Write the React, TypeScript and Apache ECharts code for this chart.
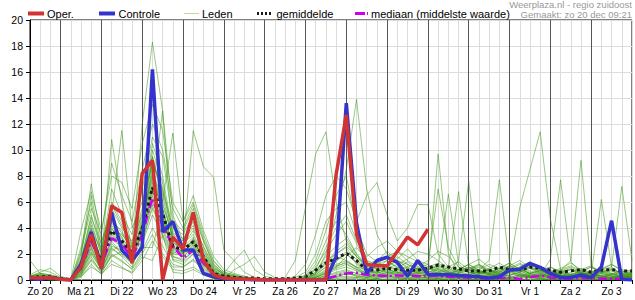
import React, { useEffect, useRef } from "react";
import * as echarts from "echarts";

// 6-hourly steps: index 0 = zo 20 dec 06:00 ... index 59 = ma 4 jan 00:00
const dayLabels = ["Zo 20", "Ma 21", "Di 22", "Wo 23", "Do 24", "Vr 25", "Za 26", "Zo 27", "Ma 28", "Di 29", "Wo 30", "Do 31", "Vr 1", "Za 2", "Zo 3"];

const oper = [0.2, 0.15, 0.2, 0.05, 0, 1.0, 3.5, 0.9, 5.7, 5.2, 1.3, 8.2, 9.2, 0, 3.3, 2.4, 5.2, 1.5, 0.4, 0.15, 0.1, 0.05, 0.05, 0, 0, 0, 0, 0, 0, 0, 8.1, 12.7, 3.5, 1.2, 1.1, 1.1, 2.2, 3.3, 2.7, 3.9];

const controle = [0.1, 0.05, 0.2, 0.05, 0, 1.2, 3.7, 0.9, 5.2, 2.3, 1.5, 2.5, 16.2, 3.7, 4.5, 2.3, 2.3, 0.5, 0.25, 0.1, 0.05, 0.05, 0, 0, 0, 0, 0, 0, 0, 0, 1.8, 13.6, 4.4, 0.5, 1.5, 1.75, 1.35, 0.3, 1.5, 0.45, 0.4, 0.4, 0.35, 0.3, 0.25, 0.15, 0.25, 0.77, 0.82, 1.28, 0.98, 0.5, 0.2, 0.2, 0.38, 0.18, 1.0, 4.56, 0.05, 0];

const gemiddelde = [0.2, 0.25, 0.25, 0.1, 0.05, 1.1, 3.3, 1.4, 3.8, 3.0, 2.1, 4.0, 7.1, 5.1, 2.6, 2.3, 2.95, 1.8, 0.5, 0.3, 0.2, 0.15, 0.15, 0.1, 0.1, 0.1, 0.15, 0.25, 0.77, 1.3, 1.67, 2.05, 1.5, 0.77, 0.77, 0.9, 0.8, 0.75, 0.75, 0.9, 1.15, 1.0, 0.85, 0.7, 0.7, 0.7, 1.0, 0.8, 0.78, 1.0, 0.9, 0.77, 0.6, 0.7, 0.8, 0.6, 0.77, 0.8, 0.7, 0.7];

const mediaan = [0.1, 0.15, 0.15, 0.05, 0, 0.9, 3.0, 1.2, 3.2, 2.8, 1.7, 3.5, 6.3, 4.2, 2.6, 1.7, 2.3, 1.3, 0.4, 0.1, 0.05, 0, 0, 0, 0, 0, 0, 0, 0, 0.1, 0.3, 0.5, 0.55, 0.4, 0.35, 0.3, 0.35, 0.3, 0.3, 0.3, 0.3, 0.25, 0.2, 0.2, 0.15, 0.1, 0.15, 0.2, 0.1, 0.2, 0.35, 0.2, 0.1, 0.1, 0.15, 0.15, 0.1, 0.1, 0.1, 0.1];

const lid01 = [0.2,0.3,0.2,0,0, 0.8,3.5,1.0,4.2,3.0,1.5,4.5,8.0,5.2,2.5,2.0,3.1,1.5,0.5, 0.2,0.1,0,0,0,0,0,0.1, 0.3,0.8,1.5,2.0,2.5,1.2,0.6,0.5,0.8,0.6,0.5,0.7, 0.8,1.2,0.6,0.4,0.3,0.5,0.8,0.4,0.3,0.9,0.6,0.4,0.2,0.3,0.5,0.3,0.2,0.4,0.3,0.2,0.3];
const lid02 = [0.1,0.2,0.1,0,0, 1.5,5.0,2.2,6.0,4.5,2.8,5.5,10.5,8.0,3.5,3.0,4.5,2.5,1.0, 0.4,0.2,0.1,0,0,0,0,0, 0,0.2,0.5,1.0,1.8,2.5,1.5,0.8,0.6,0.9,1.4,0.8, 0.5,0.3,0.2,0.6,1.0,0.7,0.4,0.2,0.1,0.3,0.5,0.8,0.4,0.2,0.1,0.2,0.6,0.9,0.5,0.3,0.2];
const lid03 = [0.3,0.5,0.4,0.1,0, 0.5,2.0,0.8,2.5,1.8,1.0,3.0,5.5,3.8,1.8,1.5,2.2,1.0,0.3, 0.1,0,0,0,0,0,0,0, 0,0,0.2,0.4,0.6,0.3,0.2,0.4,0.3,0.2,0.1,0.2, 0.1,0.2,0.4,0.3,0.1,0,0.2,0.5,0.8,0.4,0.2,0.1,0.2,0.3,0.2,0.1,0,0.1,0.2,0.1,0];
const lid04 = [0.2,0.1,0.1,0,0, 1.2,4.0,1.5,10.8,6.0,2.5,4.0,9.5,6.5,3.0,2.8,3.5,2.0,0.8, 0.3,0.2,0.1,0,0,0,0,0, 0.1,0.5,1.2,1.8,1.5,1.0,0.8,1.2,1.5,0.9,0.6,0.4, 0.3,0.6,1.0,1.4,0.8,0.5,0.3,0.6,1.1,0.7,0.4,0.3,0.5,0.4,0.2,0.6,1.0,0.5,0.3,0.4,0.6];
const lid05 = [0.1,0.1,0,0,0, 0.3,1.5,0.6,1.8,2.2,1.2,2.5,2.5,5.5,1.5,1.2,2.0,1.2,0.4, 0.1,0,0,0,0,0,0,0, 0,0,0,0.2,0.5,0.4,0.2,0.1,0.3,0.5,0.4,0.2, 0.2,0.1,0,0.1,0.3,0.2,0.1,0,0.2,0.4,0.3,0.1,0,0.1,0.3,0.5,0.3,0.1,0,0.1,0.2];
const lid06 = [0.4,0.8,0.6,0.2,0, 2.0,7.4,3.0,5.0,11.5,4.0,6.0,9.0,7.0,4.0,3.5,5.0,3.0,1.2, 0.5,0.3,0.2,0.1,0,0,0,0.2, 0.6,2.0,4.5,5.5,6.0,3.5,1.5,1.2,1.8,2.2,1.5,1.0, 1.5,2.2,1.8,1.0,0.6,0.8,1.2,0.9,0.6,1.0,1.4,0.8,0.5,0.7,1.0,0.6,0.4,0.8,1.2,0.7,0.5];
const lid07 = [0.1,0.2,0.3,0.1,0, 0.7,2.8,1.2,3.0,2.0,1.8,3.5,6.5,4.5,2.2,1.8,2.5,1.5,0.6, 0.2,0.1,0,0,0,0,0,0, 0,0.1,0.3,0.6,0.8,0.5,0.3,0.2,0.4,0.3,0.2,0.3, 0.4,0.2,0.1,0.2,0.3,0.1,0.2,0.4,0.2,0.1,0.3,0.2,0.1,0.2,0.4,0.2,0.1,0.2,0.1,0.2,0.3];
const lid08 = [0.2,0.2,0.1,0,0, 1.0,3.2,1.8,3.5,2.5,2.0,12.0,18.3,13.0,5.0,3.0,4.0,2.2,0.9, 0.4,0.2,0.1,0,0,0,0,0, 0,0.3,0.8,1.2,1.5,0.9,0.5,0.6,0.4,0.8,1.0,0.6, 0.9,0.5,0.3,0.2,0.4,0.7,0.5,0.3,0.6,0.9,0.5,0.3,0.2,0.1,0.3,0.5,0.3,0.2,0.4,0.3,0.2];
const lid09 = [0.1,0.1,0,0,0, 0.4,1.8,0.5,2.0,1.5,0.8,2.0,3.5,2.0,1.0,1.0,1.5,0.8,0.2, 0,0,0,0,0,0,0,0, 0,0,0.1,0.2,0.3,0.2,0.1,0,0.1,0.2,0.1,0, 0.1,0,0.1,0.2,0.1,0,0,0.1,0.2,0.1,0,0,0.1,0.2,0.1,0,0.1,0.2,0.1,0,0];
const lid10 = [0.2,0.4,0.3,0.1,0, 1.8,6.5,2.5,5.5,4.0,3.0,5.0,9.5,6.0,11.3,4.5,6.0,3.5,1.5, 0.6,0.4,0.2,0.1,0,0,0,0, 0.2,1.0,2.2,3.5,4.5,2.8,1.2,0.8,1.0,1.5,1.2,0.9, 1.2,7.0,2.5,1.0,0.8,0.5,0.9,1.3,0.8,0.6,1.0,0.7,0.4,0.6,0.8,0.5,0.3,0.6,0.9,0.5,0.4];
const lid11 = [0.3,0.2,0.2,0.1,0, 0.6,2.5,0.7,2.2,2.8,1.5,3.8,7.0,5.0,2.0,2.5,3.0,1.8,0.5, 0.1,0,0,0,0,0,0,0, 0,0.2,0.6,1.0,1.4,1.0,0.5,0.3,0.6,0.4,0.3,0.5, 0.6,0.9,0.5,0.3,0.6,0.4,0.2,0.5,0.7,0.3,0.2,0.4,0.6,0.3,0.1,0.3,0.5,0.2,0.1,0.3,0.2];
const lid12 = [0.1,0.1,0.1,0,0, 1.4,4.5,1.9,4.8,3.2,2.2,4.2,8.5,6.0,3.2,2.6,11.5,8.7,7.9, 2.3,1.5,0.6,0.2,0.1,0,0,0, 0.1,0.4,1.0,1.5,2.0,1.4,0.8,0.6,0.9,1.2,0.8,0.5, 0.4,0.8,0.6,1.5,7.6,1.2,0.5,0.3,0.6,0.9,0.5,0.3,0.6,0.4,0.2,0.4,0.7,0.5,0.3,0.2,0.3];
const lid13 = [0,0.1,0,0,0, 0.2,1.2,0.4,1.5,1.0,0.5,1.5,3.0,1.8,0.8,0.7,1.0,0.5,0.1, 0,0,0,0,0,0,0,0, 0,0,0,0.1,0.2,0.1,0,0.1,0.2,0.1,0,0.1, 0.2,0.1,0,0.1,0.2,0.1,0,0,0.1,0.3,0.2,0.1,0,0.1,0.2,0.1,0,0,0.1,0.2,0.1];
const lid14 = [0.2,0.3,0.1,0,0, 1.1,3.8,1.4,3.9,3.5,2.5,4.8,10.0,7.5,3.0,2.0,3.2,1.8,0.7, 0.3,0.1,0,0,0,0,0.2,1.5, 5.6,9.7,11.4,6.0,3.0,1.8,1.2,0.9,1.5,1.0,0.6,0.8, 0.5,0.9,6.6,1.2,0.6,0.4,0.8,0.5,0.3,0.6,0.9,0.5,0.3,0.5,0.8,0.4,0.2,0.5,0.7,0.4,0.3];
const lid15 = [0.1,0.2,0.2,0,0, 0.9,3.0,1.5,4.5,3.8,2.0,4.0,7.5,5.5,2.5,2.2,2.8,1.6,0.6, 0.2,0.1,0,0,0,0,0,0, 0.2,0.6,1.4,2.2,2.8,1.8,0.9,0.7,1.1,0.8,0.6,0.9, 0.7,0.5,0.8,6.8,1.0,0.6,0.4,0.7,1.0,0.5,0.3,0.6,0.8,0.4,0.2,0.4,0.6,0.3,0.2,0.4,0.5];
const lid16 = [0.2,0.1,0.1,0,0, 2.5,6.0,2.0,7.0,5.0,3.5,7.0,11.0,9.5,4.5,3.8,5.5,3.0,1.2, 0.5,0.3,0.1,0,0,0,0,0, 0,0.5,2.0,5.0,8.5,13.9,7.0,3.5,2.0,1.5,1.0,1.2, 0.8,1.0,0.6,0.5,0.8,1.2,0.7,0.4,0.6,0.9,1.2,0.8,0.5,0.3,0.6,0.9,0.5,0.3,0.5,0.7,0.4];
const lid17 = [0.3,0.6,0.9,0.3,0, 0.5,2.2,1.0,2.8,2.0,1.4,2.8,5.0,3.5,1.8,1.6,2.2,1.2,0.4, 0.1,0,0,0,0,0,0,0, 0,0.1,0.4,0.8,1.0,0.7,0.4,0.3,0.5,0.7,0.5,0.3, 0.3,0.5,0.3,0.2,0.5,0.8,1.5,7.7,1.2,0.5,0.3,0.2,0.4,0.6,0.3,0.2,0.4,0.3,0.2,0.3,0.2];
const lid18 = [0.1,0.1,0,0,0, 1.3,3.6,2.5,4.0,2.5,1.8,3.8,6.0,4.2,2.8,2.5,3.3,2.0,0.8, 0.3,0.2,0.1,0,0,0,0,0, 0.3,1.2,3.0,4.5,3.5,2.0,1.2,1.5,2.2,1.5,0.9,0.7, 1.0,0.6,0.4,0.8,1.2,0.7,0.5,0.9,1.3,0.8,0.5,0.7,1.0,0.6,0.4,0.8,1.1,0.6,0.4,0.6,0.8];
const lid19 = [0.2,0.2,0.1,0,0, 0.8,2.6,1.1,3.3,3.0,2.0,4.3,8.8,4.8,2.3,2.0,2.6,1.4,0.5, 0.2,0.1,0,0,0,0,0,0, 0,0.3,0.7,1.1,1.3,0.8,0.5,0.4,0.7,0.5,0.4,0.6, 0.5,0.3,0.6,0.4,0.2,0.5,0.8,0.6,0.9,5.6,8.5,11.4,4.7,0.8,0.4,0.6,0.3,0.2,0.5,0.3,0.2];
const lid20 = [0.2,0.4,0.2,0,0, 1.6,4.8,2.8,5.8,4.2,2.6,5.2,9.2,6.8,3.6,3.2,4.2,2.6,1.1, 0.4,0.3,0.2,0.1,0,0,0,0, 0.1,0.6,1.8,2.6,3.2,2.0,1.0,1.4,1.8,1.2,1.6,2.2, 2.0,1.5,0.9,0.6,0.8,1.1,0.7,0.5,0.8,1.2,0.9,0.6,0.4,0.7,1.5,9.2,1.0,0.6,0.8,0.5,0.4];
const lid21 = [0,0,0,0,0, 0.3,1.0,0.5,1.2,0.9,0.6,1.8,1.5,3.5,0.6,0.5,0.8,0.4,0.1, 0,0,0,0,0,0,0,0, 0,0,0,0,0.1,0.2,0.1,0,0,0.1,0.2,0.1, 0,0.1,0.2,0.1,0,0,0.1,0.2,0.1,0,0.1,0.3,0.2,0.1,0,0,0.1,0.2,0.1,0,0];
const lid22 = [0.2,0.2,0.2,0.1,0, 1.0,3.4,1.6,3.6,2.7,1.7,3.6,6.8,13.0,2.9,2.4,3.0,1.7,0.7, 0.2,0.1,0,0,0,0,0,0, 0.4,1.5,3.8,6.5,8.0,4.0,2.0,1.4,1.0,1.6,2.4,1.5, 1.2,0.8,0.5,0.7,1.0,0.6,0.4,0.8,1.1,0.7,0.4,0.3,1.6,7.7,1.4,0.6,0.4,0.7,0.5,0.3,0.4];
const lid23 = [0.1,0.3,0.2,0,0, 1.2,3.9,1.3,4.4,3.3,2.1,4.1,7.8,5.4,2.7,2.1,2.9,1.9,0.6, 0.2,0.1,0,0,0,0,0,0, 0,0.2,0.6,1.4,2.2,1.6,0.7,0.5,0.8,0.6,0.4,0.6, 0.5,9.7,2.0,0.6,0.4,0.7,0.5,0.3,0.6,0.4,0.3,0.5,0.7,0.4,0.2,0.4,0.6,0.3,0.2,0.3,0.4];
const lid24 = [0.1,0.1,0.1,0,0, 0.7,2.4,0.9,2.6,2.3,1.6,3.2,6.2,4.0,2.0,1.9,2.4,1.3,0.5, 0.1,0.8,1.2,1.8,0.6,0.2,0,0, 0,0.1,0.3,0.5,0.7,0.5,0.3,0.2,0.4,0.6,0.4,0.3, 0.4,0.3,0.5,0.3,0.2,0.4,0.3,0.2,0.5,0.3,0.2,0.4,0.3,0.2,0.4,0.6,0.4,6.2,1.0,0.4,0.3];
const lid25 = [0.3,0.4,0.3,0.1,0, 2.2,5.5,3.5,9.0,6.5,4.5,8.5,12.0,10.0,5.5,4.0,5.8,3.2,1.4, 0.6,0.4,0.2,0.1,0,0,0,0, 0.2,0.8,2.5,4.0,5.0,3.0,1.8,2.5,3.0,2.2,1.8,1.4, 1.0,1.3,0.8,0.6,0.9,1.2,0.8,0.6,0.9,1.3,0.9,0.7,0.5,0.8,1.1,0.7,0.5,0.8,1.0,7.2,1.5];
const lid26 = [0.1,0.2,0.1,0,0, 0.4,1.6,0.7,1.9,1.4,0.9,2.2,4.0,2.6,1.2,1.0,1.6,0.9,0.3, 0,0,0,0,0,0,0,0, 0,0,0.2,0.3,0.5,0.3,0.2,0.1,0.3,0.2,0.1,0.2, 0.2,0.1,0.3,0.2,0.1,0.2,0.3,0.1,0.2,0.4,0.2,0.1,0.2,0.3,0.1,0.2,0.3,0.2,0.1,0.2,0.1];
const lid27 = [0.2,0.3,0.2,0.1,0, 1.5,4.2,2.0,4.6,3.6,2.4,4.6,8.2,5.8,3.3,2.7,3.8,2.3,0.9, 0.5,1.5,2.3,0.8,0.3,0.1,0,0, 0.1,0.5,1.3,2.0,2.6,1.8,1.0,0.9,1.2,1.8,1.2,0.8, 0.8,1.1,0.7,0.5,0.7,1.0,0.6,0.4,0.7,1.0,0.7,0.5,0.3,0.6,0.9,0.5,0.3,0.6,0.8,0.5,0.4];
const lid28 = [1.5,0.5,0.3,0.1,0, 0.6,2.1,0.8,2.4,1.9,1.3,2.9,5.8,3.3,1.6,1.4,2.0,1.1,0.4, 0.1,0,0,0,0,0,0,0, 0,0.2,0.5,0.9,1.2,0.8,0.4,0.3,0.6,0.4,0.3,0.5, 0.4,0.6,0.3,0.2,0.4,0.6,0.4,0.2,0.4,0.6,0.3,0.2,0.4,0.5,0.3,0.2,0.4,0.3,0.2,0.3,0.2];
const lid29 = [0.3,0.5,0.4,0.2,0, 3.8,6.8,3.8,8.0,7.5,5.5,10.5,13.5,11.5,6.0,4.5,6.5,3.8,1.8, 0.8,0.5,0.3,0.1,0,0,0,0.3, 1.2,3.5,6.5,8.0,7.0,4.5,6.5,7.5,5.0,3.0,4.0,5.8, 5.8,2.0,1.0,0.8,1.2,1.6,1.0,0.7,1.1,1.5,1.0,0.8,0.6,0.9,1.3,0.8,0.6,0.9,1.2,0.8,0.6];
const lid30 = [0.1,0.2,0.1,0,0, 0.9,2.9,1.2,3.1,2.6,1.9,3.4,7.2,4.6,2.4,2.1,2.7,1.5,0.5, 0.2,0.1,0,0,0,0,0,0, 0,0.4,1.0,1.6,2.0,1.3,0.7,0.6,1.0,0.8,0.6,0.9, 0.9,0.7,0.5,0.8,1.2,0.8,0.5,0.9,1.3,0.8,0.5,0.7,1.0,0.6,0.4,0.7,1.0,0.6,0.4,0.6,0.5];

const leden = [lid01, lid02, lid03, lid04, lid05, lid06, lid07, lid08, lid09, lid10, lid11, lid12, lid13, lid14, lid15, lid16, lid17, lid18, lid19, lid20, lid21, lid22, lid23, lid24, lid25, lid26, lid27, lid28, lid29, lid30];

const FONT = '"Liberation Sans", Arial, sans-serif';
const RED = "#d23333";
const BLUE = "#3434cc";
const GREEN = "rgba(58,150,18,0.52)";
const MAGENTA = "#cc00ee";

const toXY = (arr: number[]) => arr.map((v, i) => [i, v]);

export default function App() {
  const ref = useRef<HTMLDivElement>(null);
  useEffect(() => {
    if (!ref.current) return;
    const chart = echarts.init(ref.current, undefined, { renderer: "svg" });
    const midnights: number[] = [];
    for (let i = 3; i < 59; i += 4) midnights.push(i);

    const series: any[] = [
      {
        type: "line",
        data: [[0, 0]],
        symbol: "none",
        lineStyle: { opacity: 0 },
        silent: true,
        z: 1,
        markLine: {
          silent: true,
          symbol: "none",
          label: { show: false },
          lineStyle: { color: "#555", type: "solid", width: 1 },
          data: midnights.map((x) => ({ xAxis: x })),
        },
      },
      ...leden.map((m) => ({
        type: "line",
        data: toXY(m),
        symbol: "none",
        silent: true,
        lineStyle: { color: GREEN, width: 1 },
        z: 2,
      })),
      {
        type: "line",
        data: toXY(mediaan),
        symbol: "none",
        lineStyle: { color: MAGENTA, width: 2.5, type: [9, 3, 2, 3] },
        z: 3,
      },
      {
        type: "line",
        data: toXY(gemiddelde),
        symbol: "none",
        lineStyle: { color: "#1a1a1a", width: 3, type: [3, 3] },
        z: 4,
      },
      {
        type: "line",
        data: toXY(controle),
        symbol: "none",
        lineStyle: { color: BLUE, width: 3.5 },
        z: 5,
      },
      {
        type: "line",
        data: toXY(oper),
        symbol: "none",
        lineStyle: { color: RED, width: 3.5 },
        z: 6,
      },
    ];

    const legendY = 13.5;
    const txt = (text: string, x: number) => ({
      type: "text",
      x,
      y: legendY,
      style: { text, fill: "#000", fontSize: 11, fontFamily: FONT, align: "left", verticalAlign: "middle" },
    });
    const sw = (x1: number, x2: number, style: any) => ({
      type: "line",
      shape: { x1, y1: legendY, x2, y2: legendY },
      style,
    });

    chart.setOption({
      animation: false,
      textStyle: { fontFamily: FONT },
      grid: { left: 30, top: 20, right: 1, bottom: 20, show: true, borderColor: "#000", borderWidth: 1 },
      xAxis: {
        type: "value",
        min: 0,
        max: 59,
        interval: 1,
        axisLine: { show: true, onZero: false, lineStyle: { color: "#000", width: 1 } },
        axisTick: { show: true, length: 4, lineStyle: { color: "#000" } },
        axisLabel: {
          fontSize: 10,
          color: "#000",
          margin: 6,
          fontFamily: FONT,
          formatter: (v: number) => ((v - 1) % 4 === 0 ? dayLabels[(v - 1) / 4] : ""),
        },
        splitLine: { show: true, lineStyle: { color: "#dcdcdc", width: 1 } },
      },
      yAxis: {
        type: "value",
        min: 0,
        max: 20,
        interval: 2,
        axisLine: { show: true, lineStyle: { color: "#000", width: 1 } },
        axisTick: { show: true, length: 4, lineStyle: { color: "#000" } },
        axisLabel: { fontSize: 10.5, color: "#000", margin: 7, fontFamily: FONT },
        splitLine: { show: true, lineStyle: { color: "#dcdcdc", width: 1 } },
      },
      series,
      graphic: [
        sw(28, 44, { stroke: RED, lineWidth: 4 }),
        txt("Oper.", 47),
        sw(99, 115, { stroke: BLUE, lineWidth: 4 }),
        txt("Controle", 118.5),
        sw(184, 199, { stroke: "#b9dcaa", lineWidth: 1 }),
        txt("Leden", 202),
        sw(257, 271, { stroke: "#1a1a1a", lineWidth: 3, lineDash: [2, 2] }),
        txt("gemiddelde", 276.5),
        sw(355, 368, { stroke: MAGENTA, lineWidth: 3, lineDash: [10, 2, 1.5, 3] }),
        txt("mediaan (middelste waarde)", 371),
        {
          type: "text",
          x: 632,
          y: 4,
          style: { text: "Weerplaza.nl - regio zuidoost", fill: "#999", fontSize: 9.5, fontFamily: FONT, align: "right", verticalAlign: "middle" },
        },
        {
          type: "text",
          x: 632,
          y: 14.5,
          style: { text: "Gemaakt: zo 20 dec 09:21", fill: "#999", fontSize: 9.5, fontFamily: FONT, align: "right", verticalAlign: "middle" },
        },
      ],
    });
    return () => chart.dispose();
  }, []);
  return <div ref={ref} style={{ position: "fixed", left: 0, top: 0, width: 635, height: 300, background: "#fff" }} />;
}
